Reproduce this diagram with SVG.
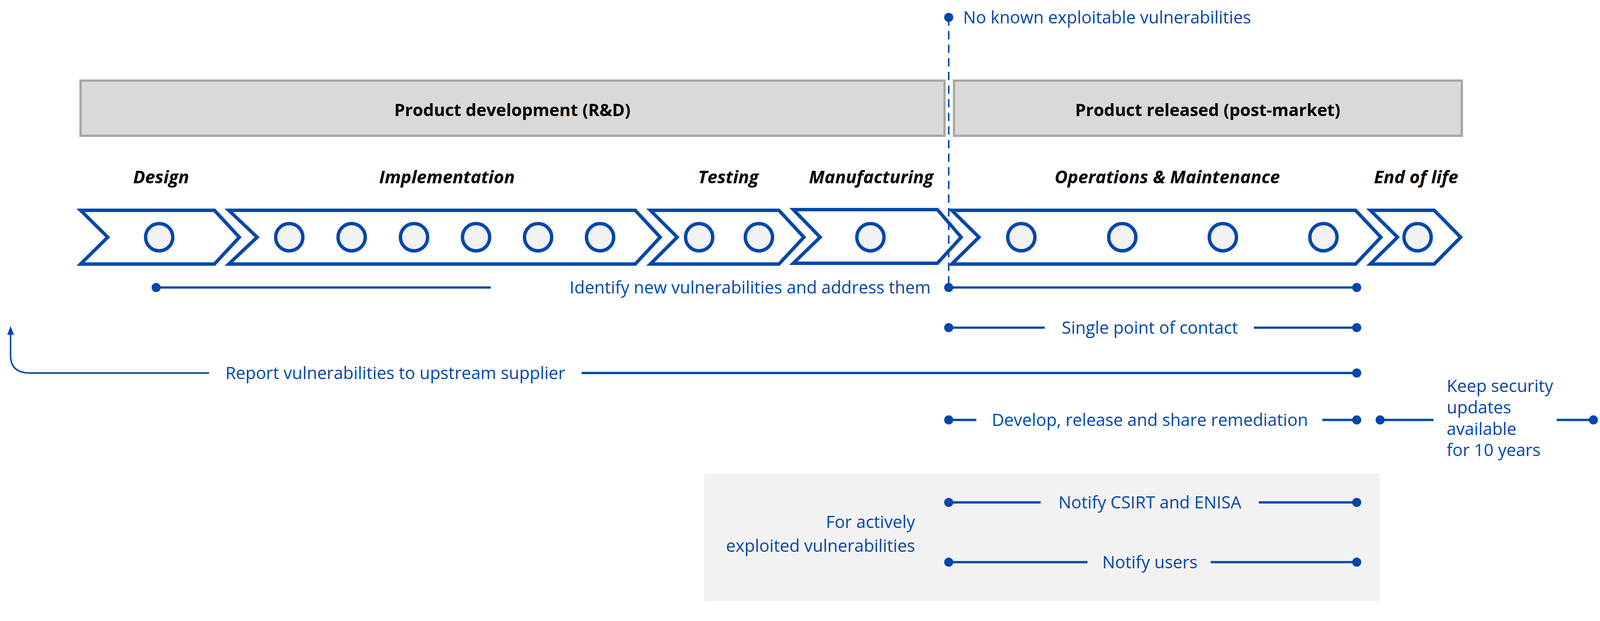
<svg xmlns="http://www.w3.org/2000/svg" width="4231" height="1589" viewBox="0 0 4231 1589">
<style>
.bar{fill:#d9d9d9;stroke:#a6a6a6;stroke-width:6}
.bt{font-family:"Open Sans","Noto Sans",sans-serif;font-weight:bold;font-size:45px;fill:#000;text-anchor:middle}
.ph{font-family:"Open Sans","Noto Sans",sans-serif;font-weight:bold;font-style:italic;font-size:47px;fill:#000;text-anchor:middle}
.chev{fill:#fff;stroke:#0047ab;stroke-width:9}
.c{fill:#f2f2f2;stroke:#0047ab;stroke-width:9}
.ln{stroke:#0047ab;stroke-width:6;fill:none}
.dot{fill:#0047ab}
.t{font-family:"Open Sans","Noto Sans",sans-serif;font-size:45px;fill:#0047ab}
</style>
<g transform="scale(0.968)">
<rect x="1862" y="1252" width="1788" height="337" fill="#f2f2f2"/>
<g id="bar-rd"><rect class="bar" x="213" y="213" width="2285" height="146"/><text class="bt" x="1355" y="307">Product development (R&amp;D)</text></g>
<g id="bar-post"><rect class="bar" x="2523" y="213" width="1343" height="146"/><text class="bt" x="3194" y="307">Product released (post-market)</text></g>
<g id="design"><text class="ph" x="426" y="485">Design</text><polygon class="chev" points="213,556 567,556 633,627 567,698 213,698 285,627"/><circle class="c" cx="421" cy="627" r="36"/></g>
<g id="implementation"><text class="ph" x="1182" y="485">Implementation</text><polygon class="chev" points="605,556 1680,556 1746,627 1680,698 605,698 680,627"/>
<circle class="c" cx="765" cy="627" r="36"/><circle class="c" cx="930" cy="627" r="36"/><circle class="c" cx="1095" cy="627" r="36"/><circle class="c" cx="1259" cy="627" r="36"/><circle class="c" cx="1423" cy="627" r="36"/><circle class="c" cx="1587" cy="627" r="36"/></g>
<g id="testing"><text class="ph" x="1926" y="485">Testing</text><polygon class="chev" points="1720,556 2060,556 2126,627 2060,698 1720,698 1791,627"/><circle class="c" cx="1849" cy="627" r="36"/><circle class="c" cx="2007" cy="627" r="36"/></g>
<g id="manufacturing"><text class="ph" x="2304" y="485">Manufacturing</text><polygon class="chev" points="2098,554 2479,554 2542,627 2479,696 2098,696 2169,627"/><circle class="c" cx="2302" cy="627" r="36"/></g>
<g id="operations"><text class="ph" x="3087" y="485">Operations &amp; Maintenance</text><polygon class="chev" points="2517,556 3585,556 3652,627 3585,698 2517,698 2589,627"/>
<circle class="c" cx="2701" cy="627" r="36"/><circle class="c" cx="2968" cy="627" r="36"/><circle class="c" cx="3234" cy="627" r="36"/><circle class="c" cx="3500" cy="627" r="36"/></g>
<g id="eol"><text class="ph" x="3745" y="485">End of life</text><polygon class="chev" points="3624,556 3793,556 3863,627 3793,698 3624,698 3696,627"/><circle class="c" cx="3749" cy="627" r="36"/></g>
<g id="connectors">
<line x1="2509" y1="46" x2="2509" y2="760" stroke="#0047ab" stroke-width="4" stroke-dasharray="22,14"/>
<circle class="dot" cx="2509" cy="46" r="12"/>
<text class="t" x="2547" y="62">No known exploitable vulnerabilities</text>
<line class="ln" x1="413" y1="760" x2="1298" y2="760"/><circle class="dot" cx="413" cy="760" r="12"/>
<text class="t" x="2461" y="776" text-anchor="end">Identify new vulnerabilities and address them</text>
<line class="ln" x1="2509" y1="760" x2="3588" y2="760"/><circle class="dot" cx="2509" cy="760" r="12"/><circle class="dot" cx="3588" cy="760" r="12"/>
<line class="ln" x1="2509" y1="866" x2="2763" y2="866"/><line class="ln" x1="3316" y1="866" x2="3588" y2="866"/><circle class="dot" cx="2509" cy="866" r="12"/><circle class="dot" cx="3588" cy="866" r="12"/>
<text class="t" x="3041" y="882" text-anchor="middle">Single point of contact</text>
<path d="M553,986 L80,986 Q28,986 28,940 L28,880" stroke="#0047ab" stroke-width="4" fill="none"/>
<polygon class="dot" points="28,862 19,885 37,885"/>
<text class="t" x="596" y="1002">Report vulnerabilities to upstream supplier</text>
<line class="ln" x1="1538" y1="986" x2="3588" y2="986"/><circle class="dot" cx="3588" cy="986" r="12"/>
<line class="ln" x1="2509" y1="1110" x2="2582" y2="1110"/><line class="ln" x1="3497" y1="1110" x2="3588" y2="1110"/><circle class="dot" cx="2509" cy="1110" r="12"/><circle class="dot" cx="3588" cy="1110" r="12"/>
<text class="t" x="3041" y="1126" text-anchor="middle">Develop, release and share remediation</text>
<line class="ln" x1="3650" y1="1110" x2="3791" y2="1110"/><line class="ln" x1="4117" y1="1110" x2="4214" y2="1110"/><circle class="dot" cx="3650" cy="1110" r="12"/><circle class="dot" cx="4214" cy="1110" r="12"/>
<text class="t" x="3826" y="1036">Keep security</text><text class="t" x="3826" y="1093">updates</text><text class="t" x="3826" y="1150">available</text><text class="t" x="3826" y="1206">for 10 years</text>
<line class="ln" x1="2509" y1="1328" x2="2752" y2="1328"/><line class="ln" x1="3329" y1="1328" x2="3588" y2="1328"/><circle class="dot" cx="2509" cy="1328" r="12"/><circle class="dot" cx="3588" cy="1328" r="12"/>
<text class="t" x="3041" y="1344" text-anchor="middle">Notify CSIRT and ENISA</text>
<line class="ln" x1="2509" y1="1486" x2="2876" y2="1486"/><line class="ln" x1="3202" y1="1486" x2="3588" y2="1486"/><circle class="dot" cx="2509" cy="1486" r="12"/><circle class="dot" cx="3588" cy="1486" r="12"/>
<text class="t" x="3041" y="1502" text-anchor="middle">Notify users</text>
<text class="t" x="2420" y="1396" text-anchor="end">For actively</text>
<text class="t" x="2420" y="1459" text-anchor="end">exploited vulnerabilities</text>
</g>
</g>
</svg>
